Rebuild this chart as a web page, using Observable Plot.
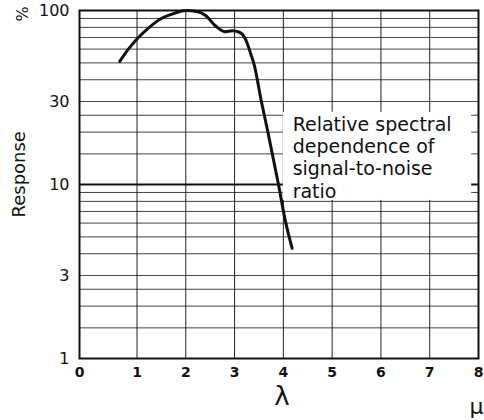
<!DOCTYPE html>
<html>
<head>
<meta charset="utf-8">
<script src="https://cdn.jsdelivr.net/npm/d3@7"></script>
<script src="https://cdn.jsdelivr.net/npm/@observablehq/plot@0.6"></script>
<style>
  html, body { margin: 0; padding: 0; background: #fff; }
  svg { display: block; }
</style>
</head>
<body>
<div id="chart"></div>
<script>
// Wavelength (micrometres) and relative response (%)
const wavelength = [0.7, 0.85, 1.0, 1.25, 1.5, 1.75, 2.0, 2.2, 2.4, 2.6, 2.8, 2.95, 3.1, 3.2, 3.27, 3.33, 3.4, 3.55, 3.68, 3.9, 4.04, 4.18];
const response   = [51, 60, 68.5, 80, 90, 96, 100, 99, 94, 82, 75.5, 76.5, 75, 70.5, 63.5, 56.5, 49, 30, 20.2, 10, 6.2, 4.3];

const xTicks = [0, 1, 2, 3, 4, 5, 6, 7, 8];
const yTicks = [1, 3, 10, 30, 100];
const yGrid = [1, 1.5, 2, 2.5, 3, 4, 5, 6, 7, 8, 9, 10, 15, 20, 25, 30, 40, 50, 60, 70, 80, 90, 100];
const emphasisLine = [10];

const noteLines = "Relative spectral\ndependence of\nsignal-to-noise\nratio";
const noteBox = [{x1: 4.0, x2: 7.86, y1: 8.1, y2: 26}];
const noteAnchor = [{x: 4.19, y: 25}];

const data = wavelength.map((w, i) => ({w, r: response[i]}));
const font = "DejaVu Sans, sans-serif";

const plot = Plot.plot({
  width: 484,
  height: 420,
  marginLeft: 79,
  marginRight: 6,
  marginTop: 10,
  marginBottom: 62,
  style: {fontFamily: font, background: "#fff", color: "#111"},
  x: {type: "linear", domain: [0, 1, 8], range: [79, 136.5, 478], ticks: xTicks},
  y: {type: "log", domain: [1, 100], ticks: yTicks},
  marks: [
    Plot.ruleX(xTicks, {stroke: "#222", strokeWidth: 1}),
    Plot.ruleY(yGrid, {stroke: "#222", strokeWidth: 1, strokeOpacity: 0.85}),
    Plot.ruleY(emphasisLine, {stroke: "#111", strokeWidth: 2}),
    Plot.rect(noteBox, {x1: "x1", x2: "x2", y1: "y1", y2: "y2", fill: "#fff"}),
    Plot.frame({stroke: "#111", strokeWidth: 2}),
    Plot.line(data, {x: "w", y: "r", stroke: "#111", strokeWidth: 3, curve: "monotone-x"}),
    Plot.text(noteAnchor, {x: "x", y: "y", text: () => noteLines, textAnchor: "start", lineAnchor: "top", lineHeight: 1.17, fontSize: 19, fill: "#111"}),
    Plot.axisX(xTicks, {tickSize: 0, tickPadding: 9, fontSize: 14, fontWeight: "bold", label: null}),
    Plot.axisY(yTicks, {tickSize: 0, tickPadding: 10, fontSize: 16, label: null}),
    Plot.text(["Response"], {frameAnchor: "left", dx: -60, dy: 33, textAnchor: "start", rotate: -90, fontSize: 18, fill: "#111"}),
    Plot.text(["%"], {frameAnchor: "top-left", dx: -63, dy: 11, rotate: -90, fontSize: 16, fill: "#111"}),
    Plot.text(["λ"], {frameAnchor: "bottom", dx: 3, dy: 46, fontSize: 26, fill: "#111"}),
    Plot.text(["μ"], {frameAnchor: "bottom-right", dx: 5, dy: 55, textAnchor: "end", fontSize: 22, fill: "#111"})
  ]
});
document.getElementById("chart").appendChild(plot);
</script>
</body>
</html>
